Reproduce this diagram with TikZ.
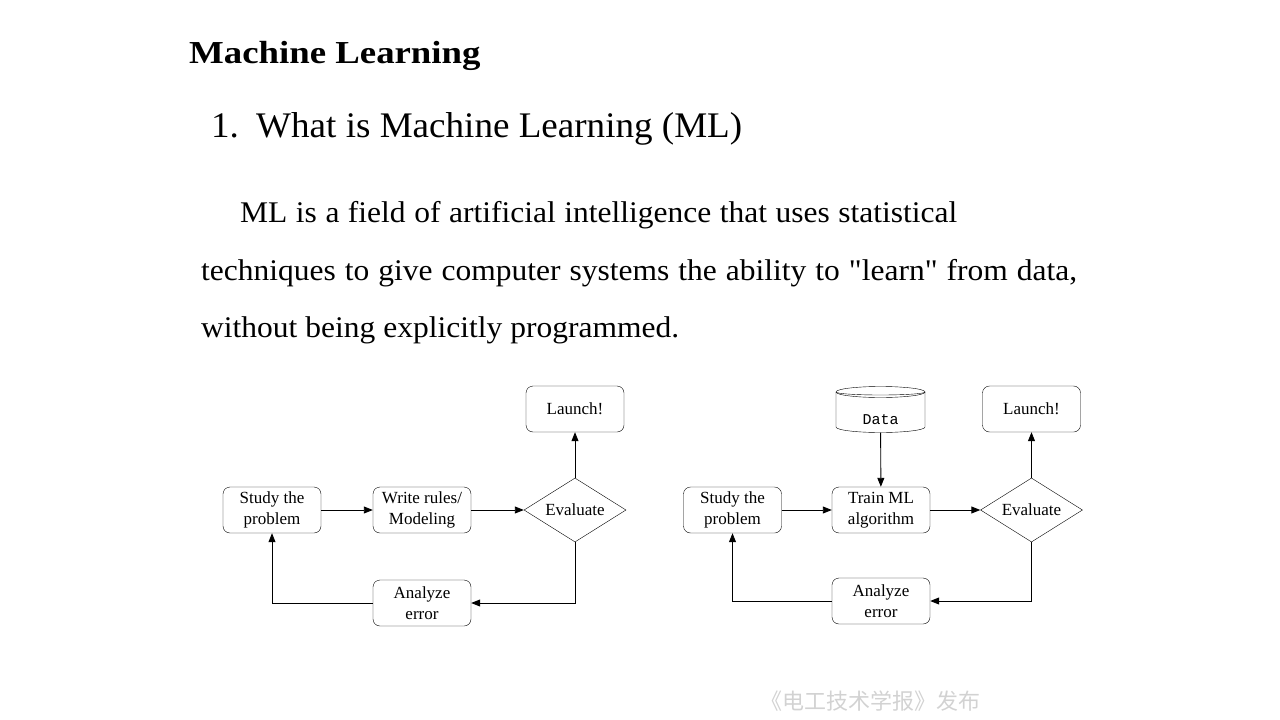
\documentclass[tikz,border=0pt]{standalone}
\usepackage{fontspec}
\setmainfont{Liberation Serif}
\newfontfamily\titlefont[FakeStretch=1.15]{Liberation Serif}
\newfontfamily\subfont[FakeStretch=1.03]{Liberation Serif}
\newfontfamily\bodyfont[FakeStretch=1.05]{Liberation Serif}
\newfontfamily\datafont{Liberation Mono}
\newfontfamily\cjk{Noto Sans CJK SC}
\usetikzlibrary{shapes.geometric,arrows.meta}

\tikzset{
  box/.style={draw, rounded corners=7pt, minimum width=98pt, minimum height=46pt,
    inner sep=0pt, align=center, font=\fontsize{17}{21}\selectfont},
  decide/.style={draw, diamond, aspect=1.6, minimum width=102pt, minimum height=64pt,
    inner sep=0pt, font=\fontsize{17}{21}\selectfont},
  flow/.style={-{Triangle[length=9pt,width=7pt]}, line width=0.9pt},
  line/.style={anchor=base west, inner sep=0pt, font=\bodyfont\fontsize{30}{34}\selectfont},
}

\begin{document}
\begin{tikzpicture}[x=1pt, y=-1pt]
  \useasboundingbox (0,0) rectangle (1280,720);

  % heading and text
  \node[anchor=base west, inner sep=0pt, font=\titlefont\bfseries\fontsize{32}{36}\selectfont] (title) at (189,63) {Machine Learning};
  \node[anchor=base west, inner sep=0pt, font=\subfont\fontsize{36}{40}\selectfont] (sub) at (211,137) {\makebox[45pt][l]{1.}What is Machine Learning (ML)};
  \node[line] (l1) at (240,222) {\makebox[717pt][s]{ML is a field of artificial intelligence that uses statistical}};
  \node[line] (l2) at (201,280) {\makebox[876pt][s]{techniques to give computer systems the ability to \symbol{34}learn\symbol{34} from data,}};
  \node[line] (l3) at (201,337) {\makebox[478pt][s]{without being explicitly programmed.}};

  % traditional approach
  \node[box] (study) at (272,510) {Study the\\problem};
  \node[box] (rules) at (422,510) {Write rules/\\Modeling};
  \node[decide] (eval) at (575,510) {Evaluate};
  \node[box] (launch) at (575,409) {Launch!};
  \node[box] (error) at (422,603) {Analyze\\error};
  \draw[flow] (study) -- (rules);
  \draw[flow] (rules) -- (eval);
  \draw[flow] (eval) -- (launch);
  \draw[flow] (eval.south) |- (error.east);
  \draw[flow] (error.west) -| (study.south);

  % machine learning approach
  \node[box] (study2) at (732.5,510) {Study the\\problem};
  \node[box] (train) at (881,510) {Train ML\\algorithm};
  \node[decide] (eval2) at (1031.5,510) {Evaluate};
  \node[box] (launch2) at (1031.5,409) {Launch!};
  \node[box] (error2) at (881,601) {Analyze\\error};
  \node[minimum width=89pt, minimum height=46pt, inner sep=0pt] (data) at (880.5,409.5) {};
  \begin{scope}[shift={(data.center)}]
    \draw (0,-17.5) ellipse [x radius=44.5pt, y radius=5.5pt];
    \draw (-44.5,-17.5) arc[start angle=180, end angle=360, x radius=44.5pt, y radius=3pt];
    \draw (-44.5,-17.5) -- (-44.5,17.5) arc[start angle=180, end angle=360, x radius=44.5pt, y radius=5.5pt] -- (44.5,-17.5);
    \node[font=\datafont\fontsize{15}{17}\selectfont] (datatext) at (0,10.5) {Data};
  \end{scope}
  \draw[flow] (data) -- (train);
  \draw[flow] (study2) -- (train);
  \draw[flow] (train) -- (eval2);
  \draw[flow] (eval2) -- (launch2);
  \draw[flow] (eval2.south) |- (error2.east);
  \draw[flow] (error2.west) -| (study2.south);

  \node[font=\cjk\fontsize{22}{26}\selectfont, text=gray!35] (mark) at (870,701) {《电工技术学报》发布};
\end{tikzpicture}
\end{document}
